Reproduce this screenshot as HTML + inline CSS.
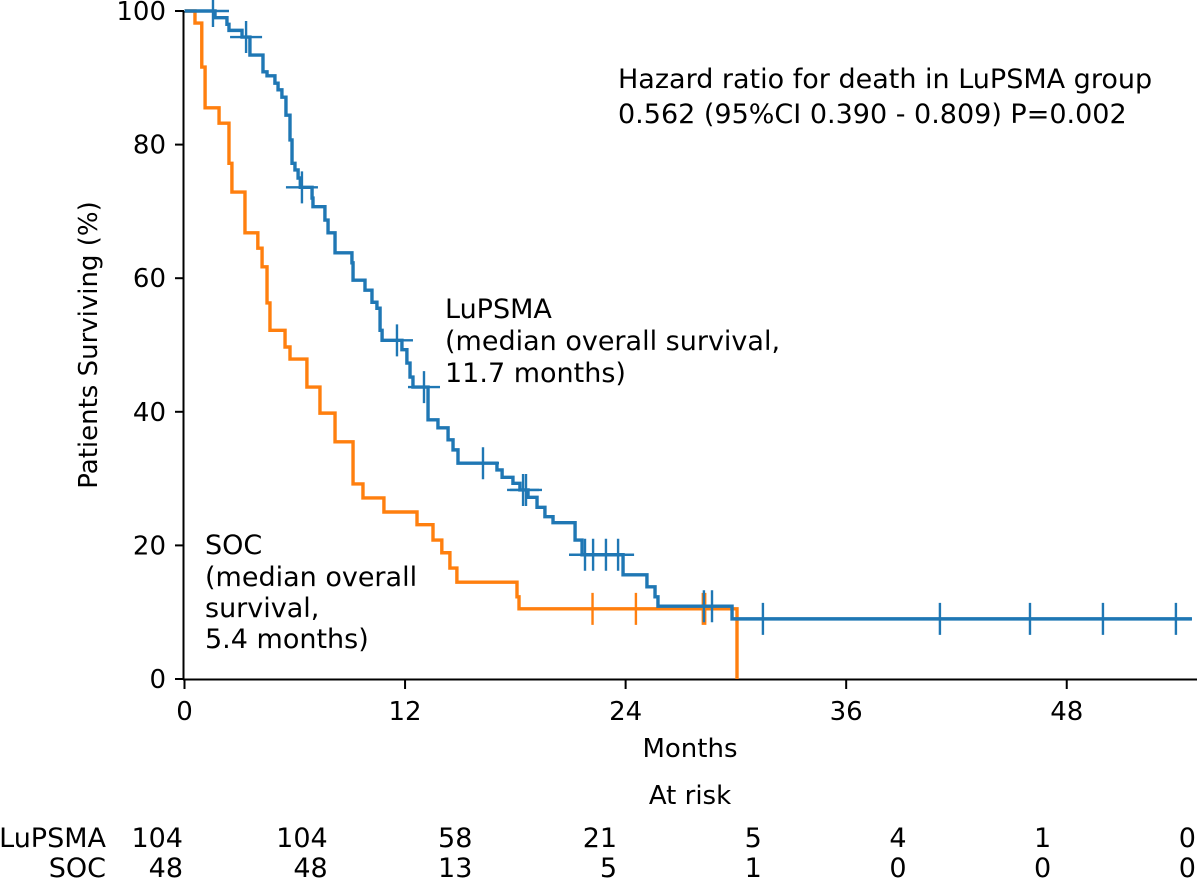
<!DOCTYPE html>
<html><head><meta charset="utf-8"><style>
html,body{margin:0;padding:0;background:#fff;}
svg{display:block;font-family:"DejaVu Sans","Liberation Sans",sans-serif;}
</style></head><body>
<svg id="chart" width="1200" height="878" viewBox="0 0 1200 878" xmlns="http://www.w3.org/2000/svg">
<g id="axes"></g>
<g id="curves"></g>
<text x="618" y="88" font-size="27">Hazard ratio for death in LuPSMA group</text>
<text x="618" y="123" font-size="27">0.562 (95%CI 0.390 - 0.809) P=0.002</text>
<g font-size="27">
<text x="445" y="318">LuPSMA</text>
<text x="445" y="350">(median overall survival,</text>
<text x="445" y="382">11.7 months)</text>
</g>
<g font-size="27">
<text x="205" y="554">SOC</text>
<text x="205" y="586">(median overall</text>
<text x="205" y="617">survival,</text>
<text x="205" y="648">5.4 months)</text>
</g>
<text transform="translate(97,345) rotate(-90)" text-anchor="middle" font-size="26">Patients Surviving (%)</text>
<text x="690" y="757" text-anchor="middle" font-size="26">Months</text>
<text x="690" y="804" text-anchor="middle" font-size="26">At risk</text>
<g id="risk" font-size="27"></g>
</svg>
<script>
const xTicks = [0, 12, 24, 36, 48];
const yTicks = [0, 20, 40, 60, 80, 100];
const lupsmaSteps = [[1.66,99],[2.31,98],[2.42,97.1],[3.13,96.1],[3.56,93.4],[4.27,90.9],[4.49,90.3],[4.92,89.2],[5.09,88.2],[5.30,87.1],[5.52,84.4],[5.74,80.7],[5.85,77.2],[6.01,76.2],[6.18,75],[6.30,73.6],[6.94,72],[6.99,70.7],[7.64,68.7],[7.81,66.8],[8.19,63.8],[9.11,62.3],[9.17,59.7],[9.82,58.2],[10.2,56.4],[10.47,55.5],[10.64,52.2],[10.75,50.7],[11.83,49.3],[12.1,47.3],[12.27,45.2],[12.43,43.7],[13.25,38.8],[13.79,37.6],[14.34,35.8],[14.61,34.3],[14.88,32.3],[17.0,31.3],[17.28,30.2],[17.87,29.3],[18.25,28.3],[18.69,27.2],[19.18,25.7],[19.61,24.3],[20.05,23.4],[21.25,20.8],[21.63,18.6],[23.86,15.6],[25.16,13.8],[25.6,12.3],[25.76,10.9],[29.79,9.0]];
const lupsmaEnd = 54.81;
const lupsmaCensor = [1.55,3.35,6.39,11.56,13.03,16.24,18.42,18.58,21.79,22.23,22.93,23.59,28.26,28.7,31.47,41.1,46.0,49.97,53.94];
const socSteps = [[0.57,98.2],[0.94,91.6],[1.12,85.5],[1.88,83.2],[2.42,77.2],[2.58,72.9],[3.29,66.8],[3.99,64.5],[4.22,61.7],[4.49,56.3],[4.65,52.2],[5.47,49.7],[5.74,47.9],[6.66,43.7],[7.37,39.8],[8.19,35.5],[9.17,29.2],[9.71,27.1],[10.85,25],[12.65,23.1],[13.52,20.8],[14.0,18.9],[14.44,16.6],[14.82,14.5],[18.09,12.3],[18.2,10.5],[30.06,0]];
const socEnd = 30.06;
const socCensor = [22.2,24.56,28.2,28.33];
const riskGroups = ["LuPSMA", "SOC"];
const riskLupsma = [104,104,58,21,5,4,1,0];
const riskSoc = [48,48,13,5,1,0,0,0];

const NS = "http://www.w3.org/2000/svg";
const X = t => 184.5 + t * 18.38;
const Y = p => 679 - p * 6.68;
function mk(tag, attrs, parent){const e=document.createElementNS(NS,tag);for(const k in attrs)e.setAttribute(k,attrs[k]);parent.appendChild(e);return e;}
const axes = document.getElementById('axes');
let e = mk('line',{x1:183.5,y1:11,x2:183.5,y2:680,stroke:'#000','stroke-width':2},axes);


e = mk('line',{x1:183,y1:679.5,x2:1197,y2:679.5,stroke:'#000','stroke-width':2},axes);


xTicks.forEach(t=>{
  const l=mk('line',{x1:X(t),y1:680,x2:X(t),y2:689,stroke:'#000','stroke-width':2},axes);
  
  
  const tx=mk('text',{x:X(t),y:720,'text-anchor':'middle','font-size':26},axes);
  tx.textContent=t;
  
  
});
yTicks.forEach(p=>{
  const l=mk('line',{x1:175,y1:Y(p),x2:184,y2:Y(p),stroke:'#000','stroke-width':2},axes);
  
  
  const tx=mk('text',{x:166,y:Y(p)+9,'text-anchor':'end','font-size':26},axes);
  tx.textContent=p;
  
  
});
const curves = document.getElementById('curves');
function survAt(steps,t){let s=100;for(const [tt,v] of steps){if(tt<=t)s=v;else break;}return s;}
function drawCurve(steps,end,censor,color,name){
  let d=`M${X(0)},${Y(100)}`;
  steps.forEach(([t,s])=>{d+=` H${X(t)} V${Y(s)}`;});
  d+=` H${X(end)}`;
  const p=mk('path',{d:d,fill:'none',stroke:color,'stroke-width':3.4},curves);
  
  
  censor.forEach(t=>{
    const s=survAt(steps,t);
    const c=mk('path',{d:`M${X(t)},${Y(s)-16} V${Y(s)+16} M${X(t)-16},${Y(s)} H${X(t)+16}`,stroke:color,'stroke-width':2.4,fill:'none'},curves);
    
    
  });
}
drawCurve(socSteps,socEnd,socCensor,'#ff7f0e','soc');
drawCurve(lupsmaSteps,lupsmaEnd,lupsmaCensor,'#1f77b4','lupsma');
const risk=document.getElementById('risk');
[[riskLupsma,847],[riskSoc,877]].forEach(([vals,y],gi)=>{
  const g=mk('text',{x:106,y:y,'text-anchor':'end'},risk);
  g.textContent=riskGroups[gi];
  
  
  vals.forEach((v,i)=>{
    const t=mk('text',{x:183+i*144.7,y:y,'text-anchor':'end'},risk);
    t.textContent=v;
    
    
  });
});
</script>
</body></html>
